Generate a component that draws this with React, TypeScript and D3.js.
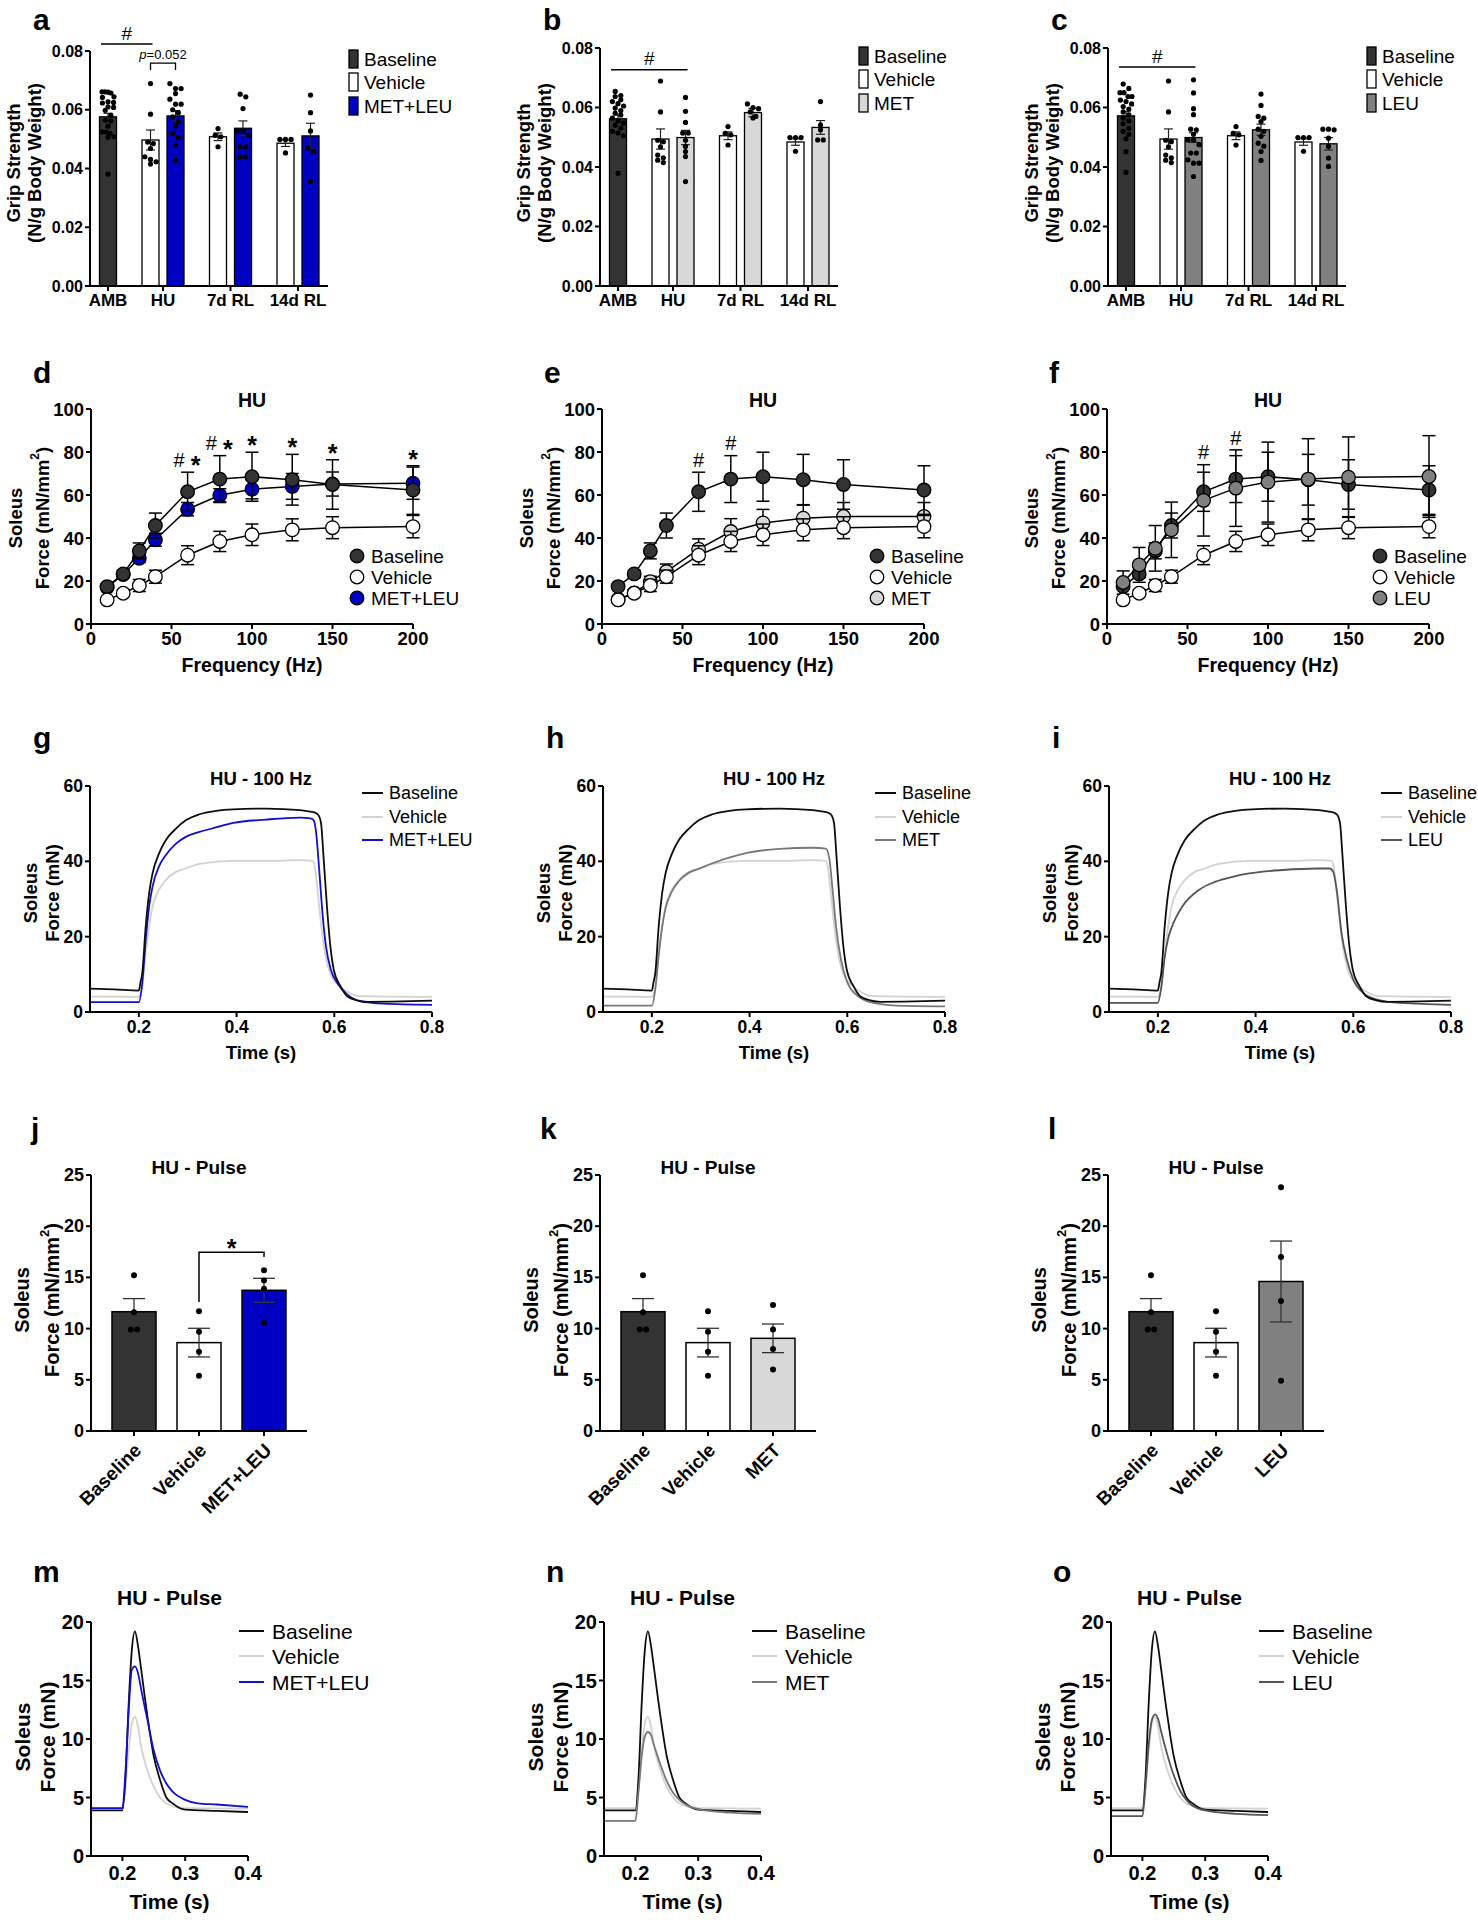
import React from 'react';
import * as d3 from 'd3';

const FONT = "'Liberation Sans', Arial, Helvetica, sans-serif";

const C_BASE = '#333333';
const C_METLEU = '#0000c2';
const C_MET = '#d8d8d8';
const C_LEU = '#808080';
const L_BASE = '#0d0d0d';
const L_VEH = '#d2d2d2';
const L_METLEU = '#1010d0';
const L_MET = '#787878';
const L_LEU = '#555555';

// ---------------- a-c : grip strength ----------------
const gripGroups = ['AMB', 'HU', '7d RL', '14d RL'];
const gripBarGroup = [0, 1, 1, 2, 2, 3, 3];
const gripBarKind = ['base', 'veh', 'trt', 'veh', 'trt', 'veh', 'trt'];
const gripTicks = [0, 0.02, 0.04, 0.06, 0.08];

const gripMeanMetLeu = [0.0576, 0.0497, 0.0579, 0.0508, 0.0537, 0.0486, 0.0511];
const gripSemMetLeu = [0.0012, 0.0034, 0.0018, 0.0013, 0.0025, 0.0011, 0.0043];
const gripMeanMet = [0.0562, 0.0494, 0.0499, 0.0505, 0.0583, 0.0484, 0.0533];
const gripSemMet = [0.0013, 0.0034, 0.0024, 0.0013, 0.0014, 0.0011, 0.0023];
const gripMeanLeu = [0.0572, 0.0494, 0.0499, 0.0505, 0.0525, 0.0484, 0.0478];
const gripSemLeu = [0.0014, 0.0034, 0.0016, 0.0013, 0.0019, 0.0011, 0.0021];

const gripDotsVehHU = [0.0689, 0.0585, 0.049, 0.0485, 0.0468, 0.044, 0.0431, 0.0423, 0.0415];
const gripDotsVeh7d = [0.0536, 0.0513, 0.0508, 0.0474];
const gripDotsVeh14d = [0.0499, 0.0499, 0.0499, 0.0453];

const gripDotsAmbA = [0.0661, 0.0661, 0.066, 0.0657, 0.0644, 0.0642, 0.0627, 0.0625, 0.0623, 0.061, 0.0608, 0.0598, 0.0581, 0.0564, 0.0562, 0.0544, 0.0525, 0.0524, 0.052, 0.0508, 0.0506, 0.0381];
const gripDotsMetLeuHU = [0.0689, 0.0672, 0.0672, 0.0655, 0.0636, 0.0619, 0.0619, 0.06, 0.059, 0.0576, 0.0559, 0.0545, 0.0519, 0.0505, 0.048, 0.0428];
const gripDotsMetLeu7d = [0.0653, 0.0644, 0.0604, 0.0527, 0.0527, 0.0513, 0.0474, 0.0474, 0.044, 0.044];
const gripDotsMetLeu14d = [0.065, 0.059, 0.0528, 0.047, 0.0457, 0.0357];

const gripDotsAmbB = [0.0654, 0.064, 0.0637, 0.0626, 0.062, 0.0613, 0.0605, 0.0598, 0.059, 0.0581, 0.0575, 0.0564, 0.0555, 0.0548, 0.054, 0.0531, 0.052, 0.0514, 0.0505, 0.0379];
const gripDotsMetHU = [0.0634, 0.0587, 0.055, 0.0514, 0.0514, 0.049, 0.0469, 0.0452, 0.0435, 0.0351];
const gripDotsMet7d = [0.0612, 0.06, 0.0596, 0.0585, 0.057, 0.0565];
const gripDotsMet14d = [0.062, 0.0542, 0.0525, 0.0491, 0.0491];

const gripDotsAmbC = [0.0679, 0.0664, 0.065, 0.065, 0.0637, 0.0637, 0.0625, 0.062, 0.0612, 0.0603, 0.0595, 0.0585, 0.0575, 0.0565, 0.0555, 0.0545, 0.053, 0.052, 0.051, 0.0495, 0.0452, 0.0382];
const gripDotsLeuHU = [0.0693, 0.0649, 0.0596, 0.0576, 0.0527, 0.0525, 0.051, 0.0491, 0.0491, 0.0475, 0.0447, 0.0447, 0.0424, 0.0413, 0.0413, 0.0368];
const gripDotsLeu7d = [0.0645, 0.0607, 0.057, 0.0564, 0.0553, 0.0527, 0.052, 0.0503, 0.048, 0.047, 0.0452, 0.0422];
const gripDotsLeu14d = [0.0527, 0.0527, 0.0525, 0.0497, 0.0469, 0.043, 0.0402];

// ---------------- d-f : force-frequency ----------------
const freqHz = [10, 20, 30, 40, 60, 80, 100, 125, 150, 200];
const freqTicksX = [0, 50, 100, 150, 200];
const freqTicksY = [0, 20, 40, 60, 80, 100];
const ffBaseMean = [17.4, 23.3, 34.0, 45.8, 61.5, 67.4, 68.5, 67.1, 64.9, 62.3];
const ffBaseSem = [1.2, 1.8, 3.7, 5.8, 9.1, 10.9, 11.4, 11.8, 11.5, 11.3];
const ffVehMean = [11.2, 14.3, 17.9, 22.0, 32.0, 38.4, 41.5, 43.8, 44.8, 45.3];
const ffVehSem = [1.0, 1.5, 2.8, 3.0, 4.4, 4.7, 5.0, 5.1, 5.1, 5.2];
const ffMetLeuMean = [17.0, 23.0, 30.6, 39.2, 53.4, 59.9, 62.7, 64.0, 65.1, 65.5];
const ffMetLeuSem = [0.8, 1.2, 2.0, 3.0, 3.1, 3.0, 4.5, 6.0, 5.6, 7.5];
const ffMetMean = [11.5, 14.5, 19.7, 24.4, 34.8, 43.0, 47.0, 49.2, 50.0, 50.0];
const ffMetSem = [1.0, 1.5, 2.5, 3.5, 4.8, 6.0, 6.3, 6.3, 6.5, 6.5];
const ffLeuMean = [19.3, 27.5, 35.2, 43.8, 57.5, 63.2, 66.0, 67.4, 68.3, 68.6];
const ffLeuSem = [5.4, 8.1, 10.6, 12.9, 16.6, 17.8, 18.6, 18.8, 18.7, 19.0];
const ffSigMetLeu = [{ hz: 60, marks: '#*' }, { hz: 80, marks: '#*' }, { hz: 100, marks: '*' }, { hz: 125, marks: '*' }, { hz: 150, marks: '*' }, { hz: 200, marks: '*' }];
const ffSigMet = [{ hz: 60, marks: '#' }, { hz: 80, marks: '#' }];
const ffSigLeu = [{ hz: 60, marks: '#' }, { hz: 80, marks: '#' }];

// ---------------- g-i : 100 Hz traces ----------------
const tetTicksX = [0.2, 0.4, 0.6, 0.8];
const tetTicksY = [0, 20, 40, 60];
const tetBaseline = [[0.1, 6.2], [0.15, 6.0], [0.2, 5.7], [0.2035, 8.0], [0.207, 10.3], [0.214, 22.7], [0.221, 31.5], [0.228, 36.8], [0.241, 42.0], [0.255, 45.6], [0.276, 48.7], [0.296, 50.9], [0.324, 52.5], [0.358, 53.4], [0.393, 53.8], [0.461, 54.0], [0.53, 53.6], [0.554, 53.1], [0.561, 52.9], [0.568, 52.2], [0.573, 50.0], [0.578, 41.2], [0.585, 28.0], [0.592, 17.4], [0.599, 11.2], [0.613, 6.8], [0.627, 4.1], [0.647, 3.1], [0.668, 2.7], [0.737, 2.8], [0.8, 3.0]];
const tetVehicle = [[0.1, 4.1], [0.15, 4.1], [0.2, 4.0], [0.207, 6.8], [0.214, 15.6], [0.221, 22.7], [0.228, 28.0], [0.241, 32.4], [0.255, 35.0], [0.276, 37.2], [0.296, 38.1], [0.324, 39.3], [0.393, 40.1], [0.461, 40.1], [0.53, 40.3], [0.556, 40.1], [0.56, 38.6], [0.566, 32.0], [0.574, 22.0], [0.582, 15.0], [0.592, 10.0], [0.606, 7.5], [0.627, 5.4], [0.654, 4.2], [0.8, 4.0]];
const tetMetLeu = [[0.1, 2.6], [0.2, 2.6], [0.207, 7.7], [0.214, 19.1], [0.221, 28.0], [0.228, 33.3], [0.241, 38.6], [0.255, 41.6], [0.276, 44.7], [0.296, 46.5], [0.324, 47.8], [0.358, 49.0], [0.393, 50.2], [0.461, 51.1], [0.53, 51.6], [0.551, 51.4], [0.558, 50.9], [0.563, 47.4], [0.569, 38.0], [0.576, 26.0], [0.583, 17.4], [0.593, 11.2], [0.607, 7.5], [0.627, 4.6], [0.654, 2.8], [0.7, 2.2], [0.8, 1.9]];
const tetMet = [[0.1, 1.7], [0.2, 1.7], [0.207, 6.0], [0.214, 15.0], [0.221, 22.5], [0.228, 27.5], [0.241, 32.0], [0.255, 34.7], [0.276, 37.0], [0.296, 38.0], [0.324, 39.5], [0.358, 41.0], [0.393, 42.2], [0.461, 43.3], [0.53, 43.6], [0.556, 43.4], [0.563, 41.0], [0.57, 32.3], [0.577, 22.7], [0.587, 14.0], [0.6, 7.9], [0.62, 4.4], [0.647, 2.6], [0.7, 1.7], [0.8, 1.5]];
const tetLeu = [[0.1, 2.4], [0.2, 2.4], [0.207, 6.5], [0.214, 14.5], [0.221, 19.5], [0.229, 22.7], [0.25, 28.0], [0.284, 32.4], [0.318, 34.6], [0.353, 35.9], [0.387, 36.8], [0.456, 37.7], [0.525, 38.1], [0.552, 38.1], [0.559, 37.2], [0.566, 32.4], [0.576, 20.9], [0.587, 13.9], [0.6, 8.6], [0.621, 5.0], [0.649, 3.3], [0.697, 2.4], [0.8, 1.9]];

// ---------------- j-l : pulse bars ----------------
const pulseCats = ['Baseline', 'Vehicle'];
const pulseTicksY = [0, 5, 10, 15, 20, 25];
const pulseDotsBase = [15.2, 11.6, 9.9, 9.9];
const pulseDotsVeh = [11.7, 9.7, 7.75, 5.4];
const pulseDotsMetLeu = [15.7, 14.7, 13.9, 10.6];
const pulseDotsMet = [12.3, 9.9, 8.0, 6.0];
const pulseDotsLeu = [23.8, 17.0, 12.7, 4.9];
const pulseMeanMetLeu = [11.65, 8.63, 13.74];
const pulseSemMetLeu = [1.28, 1.4, 1.17];
const pulseMeanMet = [11.65, 8.63, 9.05];
const pulseSemMet = [1.28, 1.4, 1.4];
const pulseMeanLeu = [11.65, 8.63, 14.6];
const pulseSemLeu = [1.28, 1.4, 3.95];
const pulseSigMetLeu = { from: 1, to: 2, level: 17.45, leftEnd: 12.6, rightEnd: 17.0, label: '*' };

// ---------------- m-o : pulse traces ----------------
const twTicksX = [0.2, 0.3, 0.4];
const twTicksY = [0, 5, 10, 15, 20];
const twBaseline = [[0.15, 3.9], [0.2, 3.9], [0.205, 6.75], [0.21, 13.0], [0.215, 17.6], [0.22, 19.2], [0.225, 17.9], [0.23, 15.9], [0.24, 11.9], [0.25, 8.5], [0.26, 6.5], [0.27, 5.0], [0.28, 4.5], [0.3, 3.96], [0.35, 3.85], [0.4, 3.76]];
const twVehicle = [[0.15, 4.1], [0.2, 4.1], [0.205, 5.9], [0.21, 9.0], [0.215, 11.3], [0.22, 11.9], [0.225, 11.0], [0.23, 9.3], [0.24, 7.3], [0.25, 5.9], [0.26, 5.0], [0.27, 4.5], [0.3, 4.1], [0.4, 4.05]];
const twMetLeu = [[0.15, 4.1], [0.2, 4.1], [0.205, 7.3], [0.21, 12.4], [0.215, 15.9], [0.22, 16.2], [0.225, 15.6], [0.23, 14.2], [0.24, 11.6], [0.25, 9.0], [0.26, 7.3], [0.27, 6.2], [0.28, 5.5], [0.3, 4.8], [0.32, 4.5], [0.35, 4.4], [0.4, 4.2]];
const twMet = [[0.15, 3.0], [0.2, 3.0], [0.205, 5.5], [0.21, 8.5], [0.215, 10.2], [0.22, 10.6], [0.225, 10.3], [0.23, 9.4], [0.24, 7.8], [0.25, 6.4], [0.26, 5.4], [0.27, 4.8], [0.28, 4.4], [0.3, 4.0], [0.35, 3.7], [0.4, 3.6]];
const twLeu = [[0.15, 3.4], [0.2, 3.4], [0.205, 6.0], [0.21, 9.5], [0.215, 11.6], [0.22, 12.1], [0.225, 11.7], [0.23, 10.6], [0.24, 8.6], [0.25, 6.9], [0.26, 5.6], [0.27, 4.8], [0.28, 4.3], [0.3, 3.9], [0.35, 3.6], [0.4, 3.5]];

// ---------------- helpers ----------------
function swarm(values, y, cx, r, maxHalf) {
  const step = 2 * r + 0.4;
  const sorted = [...values].sort((a, b) => b - a);
  const rows = [];
  let cur = null;
  sorted.forEach(v => {
    const py = y(v);
    if (!cur || py - cur.start > step * 0.9) { cur = { start: py, items: [] }; rows.push(cur); }
    cur.items.push(py);
  });
  const out = [];
  rows.forEach(row => {
    const n = row.items.length;
    let s = step;
    if ((n - 1) * s / 2 > maxHalf) s = (2 * maxHalf) / Math.max(1, n - 1);
    row.items.forEach((py, i) => out.push({ x: cx + (i - (n - 1) / 2) * s, y: py }));
  });
  return out;
}

function YAxis({ x, y, ticks, fmt, fs, tl = 5 }) {
  const [r0, r1] = y.range();
  return (
    <g>
      <line x1={x} x2={x} y1={r0 + 1} y2={r1} stroke="#000" strokeWidth={2} />
      {ticks.map(t => (
        <g key={t}>
          <line x1={x - tl} x2={x} y1={y(t)} y2={y(t)} stroke="#000" strokeWidth={2} />
          <text x={x - tl - 2} y={y(t)} textAnchor="end" dominantBaseline="central" fontSize={fs} fontWeight="bold">{fmt(t)}</text>
        </g>
      ))}
    </g>
  );
}

function XAxisLine({ x0, x1, y }) {
  return <line x1={x0 - 1} x2={x1} y1={y} y2={y} stroke="#000" strokeWidth={2} />;
}

function YTitle({ lines, x, cy, fs }) {
  return (
    <g>
      {lines.map((ln, i) => (
        <text key={i} transform={`translate(${x[i]},${cy}) rotate(-90)`} textAnchor="middle" dominantBaseline="central" fontSize={fs} fontWeight="bold">{ln}</text>
      ))}
    </g>
  );
}

function ForceAreaTitle({ x, cy, fs }) {
  return (
    <text transform={`translate(${x},${cy}) rotate(-90)`} textAnchor="middle" dominantBaseline="central" fontSize={fs} fontWeight="bold">
      Force (mN/mm<tspan dy={-fs * 0.38} fontSize={fs * 0.65}>2</tspan><tspan dy={fs * 0.38}>)</tspan>
    </text>
  );
}

function PanelLabel({ x, y, t }) {
  return <text x={x} y={y} fontSize={30} fontWeight="bold">{t}</text>;
}

// ---------------- panels ----------------
function GripPanel({ ox, top, label, means, sems, dots, trtColor, trtName, hashPair, hashLevel, pBracket }) {
  const bottom = 286;
  const y = d3.scaleLinear().domain([0, 0.08]).range([bottom, top]);
  const pos = [];
  gripBarGroup.forEach((g, i) => pos.push(i === 0 ? 0 : pos[i - 1] + (g !== gripBarGroup[i - 1] ? 1.7 : 1)));
  const x = d3.scaleLinear().domain([-0.72, 8.8]).range([ox, ox + 238]);
  const bw = x(0.68) - x(0);
  const gc = gripGroups.map((_, gi) => d3.mean(pos.filter((_, i) => gripBarGroup[i] === gi)));
  const fills = gripBarKind.map(k => (k === 'base' ? C_BASE : k === 'veh' ? '#ffffff' : trtColor));
  const legendItems = [['Baseline', C_BASE], ['Vehicle', '#ffffff'], [trtName, trtColor]];
  const legendY = [top + 8, top + 31, top + 55];
  const hx0 = x(pos[hashPair[0]]) - 7;
  const hx1 = x(pos[hashPair[1]]) + 2;
  return (
    <g>
      <PanelLabel x={ox - 57} y={30} t={label} />
      {means.map((m, i) => (
        <rect key={i} x={x(pos[i]) - bw / 2} y={y(m)} width={bw} height={bottom - y(m)} fill={fills[i]} stroke="#000" strokeWidth={1.3} />
      ))}
      {means.map((m, i) => {
        const cx = x(pos[i]);
        return (
          <g key={i} stroke="#222" strokeWidth={1.2}>
            <line x1={cx} x2={cx} y1={y(m - sems[i])} y2={y(m + sems[i])} />
            <line x1={cx - 4.5} x2={cx + 4.5} y1={y(m + sems[i])} y2={y(m + sems[i])} />
            <line x1={cx - 4.5} x2={cx + 4.5} y1={y(m - sems[i])} y2={y(m - sems[i])} />
          </g>
        );
      })}
      {dots.map((arr, i) =>
        swarm(arr, y, x(pos[i]), 2.6, bw / 2 - 2.5).map((p, k) => <circle key={i + '-' + k} cx={p.x} cy={p.y} r={2.6} fill="#000" />)
      )}
      <YAxis x={ox} y={y} ticks={gripTicks} fmt={d3.format('.2f')} fs={16} />
      <XAxisLine x0={ox} x1={ox + 238} y={bottom} />
      {gripGroups.map((g, i) => (
        <g key={g}>
          <line x1={x(gc[i])} x2={x(gc[i])} y1={bottom} y2={bottom + 5} stroke="#000" strokeWidth={2} />
          <text x={x(gc[i])} y={bottom + 20} textAnchor="middle" fontSize={17} fontWeight="bold">{g}</text>
        </g>
      ))}
      <YTitle lines={['Grip Strength', '(N/g Body Weight)']} x={[ox - 77, ox - 56]} cy={163} fs={18.5} />
      <line x1={hx0} x2={hx1} y1={y(hashLevel)} y2={y(hashLevel)} stroke="#000" strokeWidth={1.5} />
      <text x={(hx0 + hx1) / 2} y={y(hashLevel) - 11 + 6.7} textAnchor="middle" fontSize={19}>#</text>
      {pBracket && (
        <g>
          <path
            d={`M${x(pos[pBracket.from])},${y(pBracket.end)}V${y(pBracket.level)}H${x(pos[pBracket.to])}V${y(pBracket.end)}`}
            fill="none" stroke="#000" strokeWidth={1.3} />
          <text x={(x(pos[pBracket.from]) + x(pos[pBracket.to])) / 2} y={y(pBracket.level) - 4} textAnchor="middle" fontSize={13}>
            <tspan fontStyle="italic">p</tspan>=0.052
          </text>
        </g>
      )}
      {legendItems.map((it, i) => (
        <g key={i}>
          <rect x={ox + 259} y={legendY[i] - 9} width={9} height={18} fill={it[1]} stroke="#000" strokeWidth={1.3} />
          <text x={ox + 274} y={legendY[i]} dominantBaseline="central" fontSize={19}>{it[0]}</text>
        </g>
      ))}
    </g>
  );
}

function FreqPanel({ ox, label, series, legend, legendDx, sig }) {
  const top = 409, bottom = 624, w = 322;
  const x = d3.scaleLinear().domain([0, 200]).range([ox, ox + w]);
  const y = d3.scaleLinear().domain([0, 100]).range([bottom, top]);
  const line = d3.line().x((_, i) => x(freqHz[i])).y(d => y(d));
  const legendY = [bottom - 68, bottom - 47, bottom - 26];
  return (
    <g>
      <PanelLabel x={ox - 58} y={383} t={label} />
      <text x={ox + w / 2} y={407} textAnchor="middle" fontSize={19.5} fontWeight="bold">HU</text>
      {series.map((s, si) => (
        <g key={si}>
          <path d={line(s.mean)} fill="none" stroke="#000" strokeWidth={1.5} />
          {s.mean.map((m, i) => {
            const cx = x(freqHz[i]);
            return (
              <g key={i} stroke="#000" strokeWidth={1.5}>
                <line x1={cx} x2={cx} y1={y(m - s.sem[i])} y2={y(m + s.sem[i])} />
                <line x1={cx - 6.5} x2={cx + 6.5} y1={y(m + s.sem[i])} y2={y(m + s.sem[i])} />
                <line x1={cx - 6.5} x2={cx + 6.5} y1={y(m - s.sem[i])} y2={y(m - s.sem[i])} />
              </g>
            );
          })}
          {s.mean.map((m, i) => (
            <circle key={'c' + i} cx={x(freqHz[i])} cy={y(m)} r={6.8} fill={s.fill} stroke="#000" strokeWidth={1.3} />
          ))}
        </g>
      ))}
      {sig.map((sg, si) => {
        const i = freqHz.indexOf(sg.hz);
        const topPx = Math.min(...series.map(s => y(s.mean[i] + s.sem[i])));
        const cy = topPx - 12;
        const cx = x(sg.hz);
        const marks = sg.marks.split('');
        return marks.map((mk, k) => {
          const dx = marks.length === 1 ? 0 : k === 0 ? -8.5 : 8;
          return (
            <text key={si + '-' + k} x={cx + dx} y={mk === '*' ? cy + 14 : cy + 6.8} textAnchor="middle"
              fontSize={mk === '*' ? 25 : 20} fontWeight={mk === '*' ? 'bold' : 'normal'}>{mk}</text>
          );
        });
      })}
      <YAxis x={ox} y={y} ticks={freqTicksY} fmt={d3.format('d')} fs={18.5} />
      <XAxisLine x0={ox} x1={ox + w} y={bottom} />
      {freqTicksX.map(t => (
        <g key={t}>
          <line x1={x(t)} x2={x(t)} y1={bottom} y2={bottom + 5} stroke="#000" strokeWidth={2} />
          <text x={x(t)} y={bottom + 21} textAnchor="middle" fontSize={18.5} fontWeight="bold">{t}</text>
        </g>
      ))}
      <text x={ox + w / 2} y={bottom + 48} textAnchor="middle" fontSize={19.5} fontWeight="bold">Frequency (Hz)</text>
      <YTitle lines={['Soleus']} x={[ox - 76]} cy={518} fs={18.5} />
      <ForceAreaTitle x={ox - 49} cy={518} fs={18.5} />
      {legend.map((it, i) => (
        <g key={i}>
          <circle cx={ox + legendDx} cy={legendY[i]} r={6.8} fill={it[1]} stroke="#000" strokeWidth={1.3} />
          <text x={ox + legendDx + 14} y={legendY[i]} dominantBaseline="central" fontSize={19}>{it[0]}</text>
        </g>
      ))}
    </g>
  );
}

function TracePanel({ ox, label, traces, legend }) {
  const top = 786, bottom = 1012, w = 342;
  const x = d3.scaleLinear().domain([0.1, 0.8]).range([ox, ox + w]);
  const y = d3.scaleLinear().domain([0, 60]).range([bottom, top]);
  const line = d3.line().x(d => x(d[0])).y(d => y(d[1])).curve(d3.curveMonotoneX);
  const legendY = [top + 7, top + 31, top + 54];
  return (
    <g>
      <PanelLabel x={ox - 57} y={748} t={label} />
      <text x={ox + w / 2} y={top - 1} textAnchor="middle" fontSize={18.5} fontWeight="bold">HU - 100 Hz</text>
      {traces.map((t, i) => (
        <path key={i} d={line(t.data)} fill="none" stroke={t.color} strokeWidth={1.8} />
      ))}
      <YAxis x={ox} y={y} ticks={tetTicksY} fmt={d3.format('d')} fs={17.5} />
      <XAxisLine x0={ox} x1={ox + w} y={bottom} />
      {tetTicksX.map(t => (
        <g key={t}>
          <line x1={x(t)} x2={x(t)} y1={bottom} y2={bottom + 5} stroke="#000" strokeWidth={2} />
          <text x={x(t)} y={bottom + 21} textAnchor="middle" fontSize={17.5} fontWeight="bold">{d3.format('.1f')(t)}</text>
        </g>
      ))}
      <text x={ox + w / 2} y={bottom + 47} textAnchor="middle" fontSize={18.5} fontWeight="bold">Time (s)</text>
      <YTitle lines={['Soleus', 'Force (mN)']} x={[ox - 60, ox - 38]} cy={893} fs={18.5} />
      {legend.map((it, i) => (
        <g key={i}>
          <line x1={ox + 272} x2={ox + 293} y1={legendY[i]} y2={legendY[i]} stroke={it[1]} strokeWidth={2} />
          <text x={ox + 299} y={legendY[i]} dominantBaseline="central" fontSize={18}>{it[0]}</text>
        </g>
      ))}
    </g>
  );
}

function PulseBarPanel({ ox, label, trtName, trtColor, dots, means, sems, sig }) {
  const top = 1175, bottom = 1431, w = 216;
  const cats = [...pulseCats, trtName];
  const fills = [C_BASE, '#ffffff', trtColor];
  const x = d3.scaleBand().domain(cats).range([ox, ox + w]).padding(0.323);
  const y = d3.scaleLinear().domain([0, 25]).range([bottom, top]);
  const bw = x.bandwidth();
  const cx = c => x(c) + bw / 2;
  return (
    <g>
      <PanelLabel x={ox - 60} y={1139} t={label} />
      <text x={ox + w / 2} y={top - 1} textAnchor="middle" fontSize={19} fontWeight="bold">HU - Pulse</text>
      {cats.map((c, i) => (
        <rect key={c} x={x(c)} y={y(means[i])} width={bw} height={bottom - y(means[i])} fill={fills[i]} stroke="#000" strokeWidth={1.5} />
      ))}
      {cats.map((c, i) => (
        <g key={'e' + c} stroke="#333" strokeWidth={1.3}>
          <line x1={cx(c)} x2={cx(c)} y1={y(means[i] - sems[i])} y2={y(means[i] + sems[i])} />
          <line x1={cx(c) - 11} x2={cx(c) + 11} y1={y(means[i] + sems[i])} y2={y(means[i] + sems[i])} />
          <line x1={cx(c) - 11} x2={cx(c) + 11} y1={y(means[i] - sems[i])} y2={y(means[i] - sems[i])} />
        </g>
      ))}
      {cats.map((c, i) =>
        swarm(dots[i], y, cx(c), 3, 12).map((p, k) => <circle key={c + k} cx={p.x} cy={p.y} r={3} fill="#000" />)
      )}
      {sig && (
        <g>
          <path d={`M${cx(cats[sig.from])},${y(sig.leftEnd)}V${y(sig.level)}H${cx(cats[sig.to])}V${y(sig.rightEnd)}`} fill="none" stroke="#000" strokeWidth={1.5} />
          <text x={(cx(cats[sig.from]) + cx(cats[sig.to])) / 2} y={y(sig.level) - 9 + 14} textAnchor="middle" fontSize={25} fontWeight="bold">{sig.label}</text>
        </g>
      )}
      <YAxis x={ox} y={y} ticks={pulseTicksY} fmt={d3.format('d')} fs={18} />
      <XAxisLine x0={ox} x1={ox + w} y={bottom} />
      {cats.map(c => (
        <g key={'t' + c}>
          <line x1={cx(c)} x2={cx(c)} y1={bottom} y2={bottom + 5} stroke="#000" strokeWidth={2} />
          <text transform={`translate(${cx(c) + 4},${bottom + 16}) rotate(-45)`} textAnchor="end" dominantBaseline="central" fontSize={19} fontWeight="bold">{c}</text>
        </g>
      ))}
      <YTitle lines={['Soleus']} x={[ox - 69]} cy={1300} fs={20} />
      <ForceAreaTitle x={ox - 39} cy={1300} fs={20} />
    </g>
  );
}

function PulseTracePanel({ ox, label, traces, legend }) {
  const top = 1622, bottom = 1856, w = 157;
  const x = d3.scaleLinear().domain([0.15, 0.4]).range([ox, ox + w]);
  const y = d3.scaleLinear().domain([0, 20]).range([bottom, top]);
  const line = d3.line().x(d => x(d[0])).y(d => y(d[1])).curve(d3.curveMonotoneX);
  const legendY = [top + 9, top + 34, top + 60];
  return (
    <g>
      <PanelLabel x={ox - 58} y={1582} t={label} />
      <text x={ox + w / 2} y={1605} textAnchor="middle" fontSize={21} fontWeight="bold">HU - Pulse</text>
      {traces.map((t, i) => (
        <path key={i} d={line(t.data)} fill="none" stroke={t.color} strokeWidth={1.8} />
      ))}
      <YAxis x={ox} y={y} ticks={twTicksY} fmt={d3.format('d')} fs={20} />
      <XAxisLine x0={ox} x1={ox + w} y={bottom} />
      {twTicksX.map(t => (
        <g key={t}>
          <line x1={x(t)} x2={x(t)} y1={bottom} y2={bottom + 5} stroke="#000" strokeWidth={2} />
          <text x={x(t)} y={bottom + 24} textAnchor="middle" fontSize={20} fontWeight="bold">{d3.format('.1f')(t)}</text>
        </g>
      ))}
      <text x={ox + w / 2} y={bottom + 53} textAnchor="middle" fontSize={21} fontWeight="bold">Time (s)</text>
      <YTitle lines={['Soleus', 'Force (mN)']} x={[ox - 69, ox - 44]} cy={1737} fs={21} />
      {legend.map((it, i) => (
        <g key={i}>
          <line x1={ox + 148} x2={ox + 173} y1={legendY[i]} y2={legendY[i]} stroke={it[1]} strokeWidth={2} />
          <text x={ox + 181} y={legendY[i]} dominantBaseline="central" fontSize={21}>{it[0]}</text>
        </g>
      ))}
    </g>
  );
}

export default function App() {
  const dotsA = [gripDotsAmbA, gripDotsVehHU, gripDotsMetLeuHU, gripDotsVeh7d, gripDotsMetLeu7d, gripDotsVeh14d, gripDotsMetLeu14d];
  const dotsB = [gripDotsAmbB, gripDotsVehHU, gripDotsMetHU, gripDotsVeh7d, gripDotsMet7d, gripDotsVeh14d, gripDotsMet14d];
  const dotsC = [gripDotsAmbC, gripDotsVehHU, gripDotsLeuHU, gripDotsVeh7d, gripDotsLeu7d, gripDotsVeh14d, gripDotsLeu14d];
  const base = { mean: ffBaseMean, sem: ffBaseSem, fill: C_BASE };
  const veh = { mean: ffVehMean, sem: ffVehSem, fill: '#ffffff' };
  return (
    <svg width={1478} height={1920} viewBox="0 0 1478 1920" fontFamily={FONT}
      style={{ position: 'absolute', left: 0, top: 0, background: '#fff' }}>
      <rect x={0} y={0} width={1478} height={1920} fill="#fff" />
      <GripPanel ox={90} top={51} label="a" means={gripMeanMetLeu} sems={gripSemMetLeu} dots={dotsA} trtColor={C_METLEU} trtName="MET+LEU"
        hashPair={[0, 1]} hashLevel={0.0824} pBracket={{ from: 1, to: 2, level: 0.0759, end: 0.0735 }} />
      <GripPanel ox={600} top={48} label="b" means={gripMeanMet} sems={gripSemMet} dots={dotsB} trtColor={C_MET} trtName="MET"
        hashPair={[0, 2]} hashLevel={0.0727} />
      <GripPanel ox={1108} top={48} label="c" means={gripMeanLeu} sems={gripSemLeu} dots={dotsC} trtColor={C_LEU} trtName="LEU"
        hashPair={[0, 2]} hashLevel={0.0736} />

      <FreqPanel ox={91} label="d" series={[{ mean: ffMetLeuMean, sem: ffMetLeuSem, fill: C_METLEU }, base, veh]}
        legend={[['Baseline', C_BASE], ['Vehicle', '#ffffff'], ['MET+LEU', C_METLEU]]} legendDx={266} sig={ffSigMetLeu} />
      <FreqPanel ox={602} label="e" series={[{ mean: ffMetMean, sem: ffMetSem, fill: C_MET }, base, veh]}
        legend={[['Baseline', C_BASE], ['Vehicle', '#ffffff'], ['MET', C_MET]]} legendDx={275} sig={ffSigMet} />
      <FreqPanel ox={1107} label="f" series={[base, { mean: ffLeuMean, sem: ffLeuSem, fill: C_LEU }, veh]}
        legend={[['Baseline', C_BASE], ['Vehicle', '#ffffff'], ['LEU', C_LEU]]} legendDx={273} sig={ffSigLeu} />

      <TracePanel ox={90} label="g" traces={[{ data: tetVehicle, color: L_VEH }, { data: tetMetLeu, color: L_METLEU }, { data: tetBaseline, color: L_BASE }]}
        legend={[['Baseline', L_BASE], ['Vehicle', L_VEH], ['MET+LEU', L_METLEU]]} />
      <TracePanel ox={603} label="h" traces={[{ data: tetVehicle, color: L_VEH }, { data: tetMet, color: L_MET }, { data: tetBaseline, color: L_BASE }]}
        legend={[['Baseline', L_BASE], ['Vehicle', L_VEH], ['MET', L_MET]]} />
      <TracePanel ox={1109} label="i" traces={[{ data: tetVehicle, color: L_VEH }, { data: tetLeu, color: L_LEU }, { data: tetBaseline, color: L_BASE }]}
        legend={[['Baseline', L_BASE], ['Vehicle', L_VEH], ['LEU', L_LEU]]} />

      <PulseBarPanel ox={91} label="j" trtName="MET+LEU" trtColor={C_METLEU} dots={[pulseDotsBase, pulseDotsVeh, pulseDotsMetLeu]}
        means={pulseMeanMetLeu} sems={pulseSemMetLeu} sig={pulseSigMetLeu} />
      <PulseBarPanel ox={600} label="k" trtName="MET" trtColor={C_MET} dots={[pulseDotsBase, pulseDotsVeh, pulseDotsMet]}
        means={pulseMeanMet} sems={pulseSemMet} />
      <PulseBarPanel ox={1108} label="l" trtName="LEU" trtColor={C_LEU} dots={[pulseDotsBase, pulseDotsVeh, pulseDotsLeu]}
        means={pulseMeanLeu} sems={pulseSemLeu} />

      <PulseTracePanel ox={91} label="m" traces={[{ data: twVehicle, color: L_VEH }, { data: twBaseline, color: L_BASE }, { data: twMetLeu, color: L_METLEU }]}
        legend={[['Baseline', L_BASE], ['Vehicle', L_VEH], ['MET+LEU', L_METLEU]]} />
      <PulseTracePanel ox={604} label="n" traces={[{ data: twVehicle, color: L_VEH }, { data: twBaseline, color: L_BASE }, { data: twMet, color: L_MET }]}
        legend={[['Baseline', L_BASE], ['Vehicle', L_VEH], ['MET', L_MET]]} />
      <PulseTracePanel ox={1111} label="o" traces={[{ data: twVehicle, color: L_VEH }, { data: twBaseline, color: L_BASE }, { data: twLeu, color: L_LEU }]}
        legend={[['Baseline', L_BASE], ['Vehicle', L_VEH], ['LEU', L_LEU]]} />
    </svg>
  );
}
